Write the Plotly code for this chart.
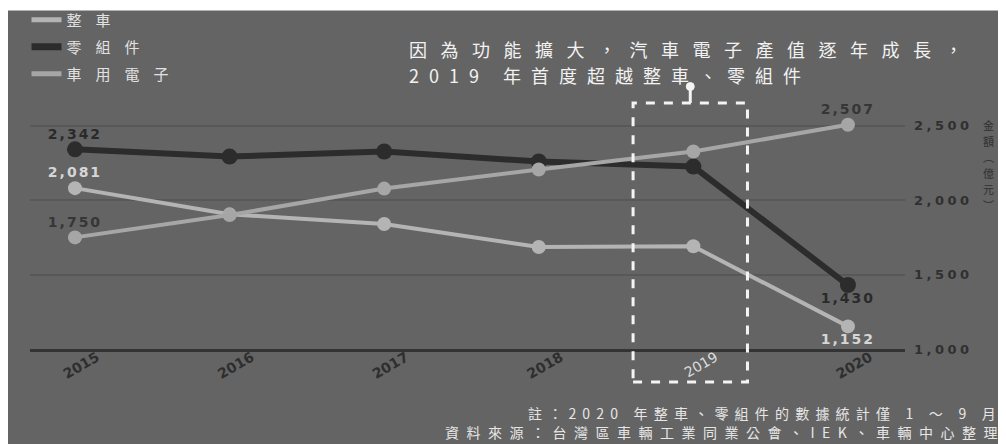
import plotly.graph_objects as go

# ---- data ----
years = [2015, 2016, 2017, 2018, 2019, 2020]
zhengche = [2081, 1905, 1840, 1685, 1690, 1152]      # 整車
lingzujian = [2342, 2293, 2327, 2260, 2226, 1430]    # 零組件
cheyong = [1750, 1900, 2078, 2206, 2327, 2507]       # 車用電子
series_names = ["整車", "零組件", "車用電子"]
y_ticks = [1000, 1500, 2000, 2500]
x_tick_text = ["2015", "2016", "2017", "2018", "2019", "2020"]
y_title_chars = ["金", "額", "︵", "億", "元", "︶"]

BG = "#646464"
CJK = "Noto Sans CJK TC"

def sp(s, ls, color=None):
    style = f"letter-spacing:{ls}px"
    if color:
        style += f";color:{color}"
    return f"<span style='{style}'>{s}</span>"

def end_labels(vals, color):
    return [f"<b>{sp(f'{v:,}', 2, color)}</b>" if i in (0, len(vals) - 1) else ""
            for i, v in enumerate(vals)]

fig = go.Figure()

styles = [
    dict(name=series_names[0], vals=zhengche, color="#b4b4b4", width=4, msize=14,
         tcolor="#d6d6d6", tpos=["top center"] * 5 + ["bottom center"]),
    dict(name=series_names[1], vals=lingzujian, color="#2c2c2c", width=6, msize=16,
         tcolor="#2a2a2a", tpos=["top center"] * 5 + ["bottom center"]),
    dict(name=series_names[2], vals=cheyong, color="#a6a6a6", width=4, msize=14,
         tcolor="#363636", tpos=["top center"] * 6),
]

for s in styles:
    fig.add_trace(go.Scatter(
        x=years, y=s["vals"], mode="lines+markers",
        line=dict(color=s["color"], width=s["width"]),
        marker=dict(color=s["color"], size=s["msize"]),
        showlegend=False, cliponaxis=False, hoverinfo="x+y",
    ))

# value labels at the first and last year (invisible small markers set the label offset)
for s in styles:
    fig.add_trace(go.Scatter(
        x=years, y=s["vals"], mode="markers+text",
        marker=dict(size=10, opacity=0),
        text=end_labels(s["vals"], s["tcolor"]), textposition=s["tpos"],
        textfont=dict(family="DejaVu Sans", size=14, color=s["tcolor"]),
        showlegend=False, cliponaxis=False, hoverinfo="skip",
    ))

# legend-only entries (line swatches)
for i, s in enumerate(styles):
    fig.add_trace(go.Scatter(
        x=[None], y=[None], mode="lines",
        line=dict(color=s["color"], width=s["width"] + 1),
        name=sp(s["name"], 14), showlegend=True, legendgroup=f"g{i}",
    ))

# note: the page body has an 8px margin, so the plot area sits at page px x 30..905, y 99..349
annotations = [
    dict(text=sp("因為功能擴大，汽車電子產值逐年成長，", 13.5),
         xref="paper", yref="paper", x=0.431, y=1.202, xanchor="left", yanchor="middle",
         align="left", showarrow=False,
         font=dict(family=CJK, size=18, color="#f2f2f2")),
    dict(text=sp("2019 年首度超越整車、零組件", 10),
         xref="paper", yref="paper", x=0.431, y=1.096, xanchor="left", yanchor="middle",
         align="left", showarrow=False,
         font=dict(family=CJK, size=18, color="#f2f2f2")),
    dict(text=sp("註：2020 年整車、零組件的數據統計僅 1 ～ 9 月", 6.2),
         xref="paper", yref="paper", x=1.113, y=-0.256, xanchor="right", yanchor="middle",
         showarrow=False, font=dict(family=CJK, size=14, color="#e6e6e6")),
    dict(text=sp("資料來源：台灣區車輛工業同業公會、IEK、車輛中心整理", 7.5),
         xref="paper", yref="paper", x=1.116, y=-0.332, xanchor="right", yanchor="middle",
         showarrow=False, font=dict(family=CJK, size=14, color="#e6e6e6")),
]

# vertical axis title, one character per row
for k, ch in enumerate(y_title_chars):
    annotations.append(dict(
        text=ch, xref="paper", yref="paper", x=1.087, y=0.896 - k * 0.064,
        xanchor="left", yanchor="middle", showarrow=False,
        font=dict(family=CJK, size=11, color="#303030")))

shapes = [
    # white strips of the original picture
    dict(type="rect", xref="paper", yref="paper", x0=-0.05, x1=1.2, y0=1.354, y1=1.6,
         fillcolor="white", line=dict(width=0), layer="above"),
    dict(type="rect", xref="paper", yref="paper", x0=-0.05, x1=-0.0252, y0=-0.5, y1=1.6,
         fillcolor="white", line=dict(width=0), layer="above"),
    # dashed highlight box around 2019
    dict(type="rect", xref="x", yref="paper", x0=2018.61, x1=2019.35, y0=-0.132, y1=0.984,
         line=dict(color="#f4f4f4", width=3, dash="dash"), fillcolor="rgba(0,0,0,0)", layer="above"),
    dict(type="line", xref="x", yref="paper", x0=2018.98, x1=2018.98, y0=0.984, y1=1.048,
         line=dict(color="#f4f4f4", width=3), layer="above"),
    dict(type="circle", xref="x", yref="paper", xsizemode="pixel", ysizemode="pixel",
         xanchor=2018.98, yanchor=1.05, x0=-4, x1=4, y0=-4, y1=4,
         fillcolor="#f4f4f4", line=dict(color="#f4f4f4", width=1), layer="above"),
]

x_ticktext = [
    f"<span style='color:#dcdcdc'>{t}</span>" if t == "2019" else f"<b>{t}</b>"
    for t in x_tick_text
]

fig.update_layout(
    width=1006, height=444,
    margin=dict(l=22, r=109, t=91, b=103, autoexpand=False),
    paper_bgcolor=BG, plot_bgcolor=BG,
    font=dict(family=CJK),
    showlegend=True,
    legend=dict(x=-0.004, y=1.382, xanchor="left", yanchor="top",
                bgcolor="rgba(0,0,0,0)", font=dict(family=CJK, size=15, color="#e2e2e2"),
                tracegroupgap=4.5, itemwidth=30),
    annotations=annotations,
    shapes=shapes,
    xaxis=dict(
        range=[2014.709, 2020.369], tickvals=years, ticktext=x_ticktext,
        tickangle=-30, ticklabelshift=22, ticklabelstandoff=-8,
        tickfont=dict(family="DejaVu Sans", size=14, color="#2e2e2e"),
        showgrid=False, zeroline=False, showline=True, linecolor="#333333", linewidth=3,
        ticks="",
    ),
    yaxis=dict(
        range=[1000, 2680], side="right", tickvals=y_ticks,
        ticktext=[f"<b>{sp(f'{v:,}', 3.5)}</b>" for v in y_ticks],
        tickfont=dict(family="DejaVu Sans", size=13, color="#303030"),
        ticklabelstandoff=8,
        showgrid=True, gridcolor="#585858", gridwidth=1.5, zeroline=False, showline=False,
        ticks="",
    ),
)

fig.write_html("out.html")
